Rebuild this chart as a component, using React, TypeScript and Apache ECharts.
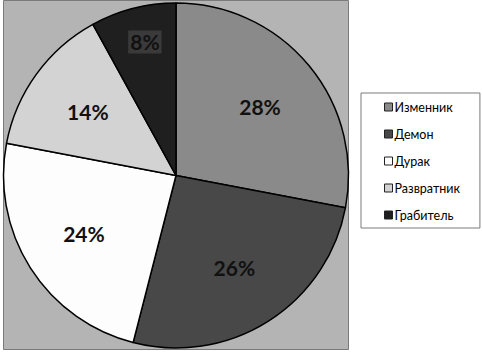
import React, { useEffect, useRef } from "react";
import * as echarts from "echarts";

const categories = ["Изменник", "Демон", "Дурак", "Развратник", "Грабитель"];
const values = [28, 26, 24, 14, 8];
const colors = ["#8a8a8a", "#484848", "#fdfdfd", "#d3d3d3", "#1f1f1f"];

export default function App() {
  const ref = useRef<HTMLDivElement>(null);
  useEffect(() => {
    document.body.style.margin = "0";
    const chart = echarts.init(ref.current!, null, { renderer: "svg" });
    const data = categories.map((name, i) => ({
      name,
      value: values[i],
      itemStyle: { color: colors[i] },
    }));
    chart.setOption({
      animation: false,
      graphic: [
        {
          type: "rect",
          z: -10,
          shape: { x: 3.5, y: 0.5, width: 345, height: 349 },
          style: { fill: "#b4b4b4", stroke: "#7a7a7a", lineWidth: 1 },
        },
      ],
      legend: {
        orient: "vertical",
        left: 361,
        top: 93,
        width: 112,
        padding: [7, 20, 6, 23],
        itemWidth: 8,
        itemHeight: 8,
        itemGap: 13,
        borderColor: "#7a7a7a",
        borderWidth: 1,
        backgroundColor: "#ffffff",
        icon: "rect",
        itemStyle: { borderColor: "#222", borderWidth: 1 },
        textStyle: {
          fontFamily: "Lato",
          fontSize: 12.5,
          color: "#000",
          padding: [0, 0, 0, -3],
          lineHeight: 14,
        },
        data: categories,
      },
      series: [
        {
          type: "pie",
          center: [176, 175.5],
          radius: [0, 172.5],
          startAngle: 90,
          clockwise: true,
          silent: true,
          label: { show: false },
          labelLine: { show: false },
          itemStyle: { borderColor: "#000", borderWidth: 1.5 },
          data,
        },
        {
          type: "pie",
          center: [176, 175.5],
          radius: [0, 212],
          startAngle: 90,
          clockwise: true,
          silent: true,
          legendHoverLink: false,
          itemStyle: { color: "transparent", borderWidth: 0 },
          labelLine: { show: false },
          label: {
            show: true,
            position: "inside",
            formatter: "{c}%",
            fontFamily: "Lato",
            fontWeight: "bold",
            fontSize: 21,
            color: "#111",
          },
          data: categories.map((name, i) => ({
            name: name + " ",
            value: values[i],
            label:
              i === 4
                ? { backgroundColor: "#3a3a3a", padding: [1, 2], color: "#111", offset: [-4, -28] }
                : undefined,
          })),
        },
      ],
    });
    return () => chart.dispose();
  }, []);
  return <div ref={ref} style={{ width: 482, height: 353 }} />;
}
